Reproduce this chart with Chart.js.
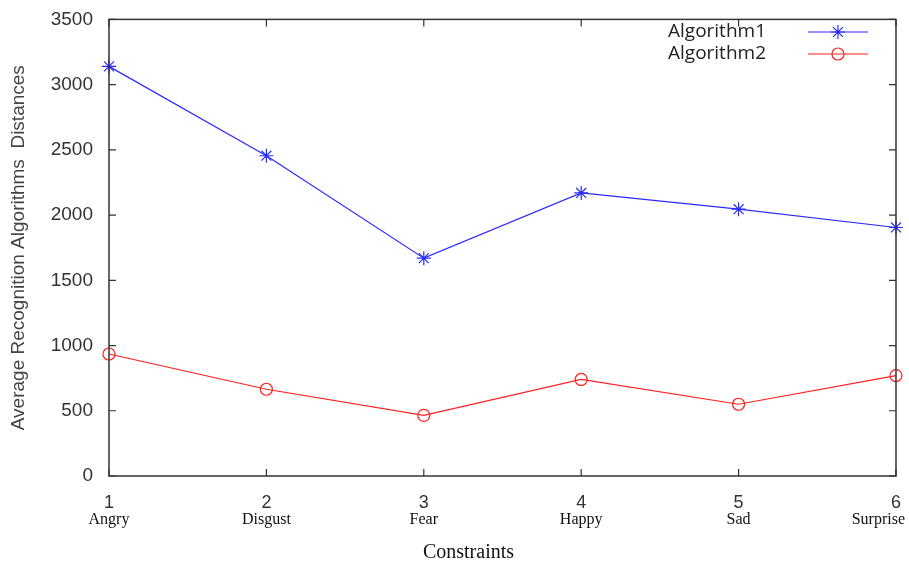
<!DOCTYPE html>
<html>
<head>
<meta charset="utf-8">
<script src="https://cdn.jsdelivr.net/npm/chart.js@4"></script>
<style>
  html, body { margin: 0; padding: 0; background: #fff; }
  #wrap { width: 909px; height: 565px; }
</style>
</head>
<body>
<div id="wrap"><canvas id="distChart" width="909" height="565"></canvas></div>
<script>
// valori
const xValues = [1, 2, 3, 4, 5, 6];
const categories = ['Angry', 'Disgust', 'Fear', 'Happy', 'Sad', 'Surprise'];
const algorithm1 = [3140, 2455, 1670, 2170, 2045, 1905];
const algorithm2 = [935, 665, 465, 740, 550, 770];
const seriesNames = ['Algorithm1', 'Algorithm2'];
const yMin = 0, yMax = 3500, yStep = 500;

// cornice, tacche interne, nomi categorie, titolo x e legenda
const framePlugin = {
    id: 'frame',
    afterDatasetsDraw(chart) {
        const { ctx, chartArea: a, scales } = chart;
        const xs = scales.x, ys = scales.y;
        ctx.save();
        ctx.strokeStyle = '#333';
        ctx.lineWidth = 1.5;
        ctx.strokeRect(a.left, a.top, a.right - a.left, a.bottom - a.top);
        ctx.lineWidth = 1.2;
        ctx.beginPath();
        xValues.forEach(v => {
            const px = xs.getPixelForValue(v);
            ctx.moveTo(px, a.bottom); ctx.lineTo(px, a.bottom - 7);
            ctx.moveTo(px, a.top); ctx.lineTo(px, a.top + 7);
        });
        for (let v = yMin; v <= yMax; v += yStep) {
            const py = ys.getPixelForValue(v);
            ctx.moveTo(a.left, py); ctx.lineTo(a.left + 7, py);
            ctx.moveTo(a.right, py); ctx.lineTo(a.right - 7, py);
        }
        ctx.stroke();

        // nomi sotto i numeri (l'ultimo non deve uscire dal bordo)
        ctx.fillStyle = '#111';
        ctx.font = '16px "Liberation Serif", serif';
        ctx.textBaseline = 'middle';
        categories.forEach((c, i) => {
            let px = xs.getPixelForValue(xValues[i]);
            const w = ctx.measureText(c).width;
            if (px + w / 2 > chart.width - 4) px = chart.width - 4 - w / 2;
            ctx.textAlign = 'center';
            ctx.fillText(c, px, 520);
        });

        // titolo asse x
        ctx.font = '20px "Liberation Serif", serif';
        ctx.textAlign = 'center';
        ctx.fillText('Constraints', (a.left + a.right) / 2 - 34, 553);

        // legenda in alto a destra
        chart.data.datasets.forEach((ds, i) => {
            const y = 32 + i * 22;
            ctx.font = '19px "Open Sans", sans-serif';
            ctx.textAlign = 'right';
            ctx.fillStyle = '#222';
            ctx.fillText(ds.label, 766, y);
            ctx.strokeStyle = ds.borderColor;
            ctx.lineWidth = 1.2;
            ctx.beginPath();
            ctx.moveTo(808, y); ctx.lineTo(868, y);
            ctx.stroke();
            ctx.fillStyle = ds.backgroundColor;
            Chart.helpers.drawPoint(ctx, {
                pointStyle: ds.pointStyle,
                radius: ds.pointRadius,
                rotation: 0,
                borderWidth: 1.2
            }, 838, y);
        });
        ctx.restore();
    }
};

const ctx = document.getElementById('distChart').getContext('2d');
const distChart = new Chart(ctx, {
    type: 'line',
    data: {
        datasets: [{
            label: seriesNames[0],
            data: xValues.map((x, i) => ({ x: x, y: algorithm1[i] })),
            borderColor: '#2a2aff',
            backgroundColor: '#2a2aff',
            borderWidth: 1.2,
            pointStyle: 'star',
            pointRadius: 7,
            pointBorderWidth: 1.2,
            tension: 0,
            fill: false,
            clip: false
        }, {
            label: seriesNames[1],
            data: xValues.map((x, i) => ({ x: x, y: algorithm2[i] })),
            borderColor: '#ff2020',
            backgroundColor: 'rgba(255,255,255,0)',
            borderWidth: 1.2,
            pointStyle: 'circle',
            pointRadius: 6,
            pointBorderWidth: 1.2,
            tension: 0,
            fill: false,
            clip: false
        }]
    },
    options: {
        responsive: false,
        animation: false,
        layout: { padding: { left: 0, top: 2, right: 10, bottom: 0 } },
        plugins: { legend: { display: false }, tooltip: { enabled: false } },
        scales: {
            x: {
                type: 'linear',
                min: 1, max: 6,
                grid: { display: false },
                border: { display: false },
                ticks: {
                    stepSize: 1,
                    padding: 8,
                    color: '#333',
                    font: { family: 'Liberation Sans, Arial', size: 18 },
                    callback: v => String(v)
                },
                afterFit(scale) { scale.height = 89; }
            },
            y: {
                min: yMin, max: yMax,
                grid: { display: false },
                border: { display: false },
                ticks: {
                    stepSize: yStep,
                    padding: 8,
                    color: '#333',
                    font: { family: 'Liberation Sans, Arial', size: 19 },
                    callback: v => String(v)
                },
                title: {
                    display: true,
                    text: 'Average Recognition Algorithms  Distances',
                    color: '#444',
                    font: { family: 'Liberation Sans, Arial', size: 19 },
                    padding: { top: 7, bottom: 0 }
                },
                afterFit(scale) { scale.width = 109; }
            }
        }
    },
    plugins: [framePlugin]
});
</script>
</body>
</html>
